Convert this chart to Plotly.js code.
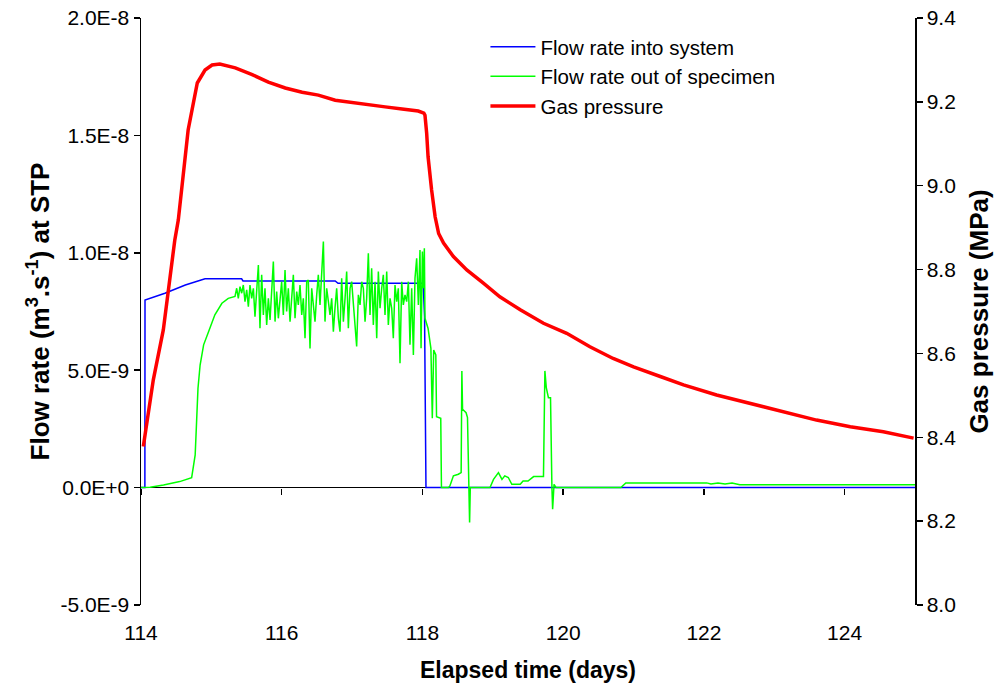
<!DOCTYPE html>
<html>
<head>
<meta charset="utf-8">
<script src="https://cdn.plot.ly/plotly-3.0.1.min.js"></script>
<style>html,body{margin:0;padding:0;background:#fff;}#chart{width:998px;height:688px;}</style>
</head>
<body>
<div id="chart"></div>
<script>
// Flow rate into system (m3/s at STP)
const inT = [114.0, 114.055, 114.057, 114.34, 114.63, 114.77, 114.91, 115.43, 115.45, 116.76, 116.80, 118.01, 118.03, 118.05, 125.0];
const inF = [0, 0, 7.99e-9, 8.28e-9, 8.63e-9, 8.77e-9, 8.89e-9, 8.89e-9, 8.80e-9, 8.80e-9, 8.70e-9, 8.70e-9, 7.28e-9, 0, 0];

// Flow rate out of specimen (m3/s at STP)
const outT = [114.0, 114.03, 114.13, 114.32, 114.55, 114.72, 114.77, 114.79, 114.81, 114.84, 114.89, 114.96, 115.05, 115.15, 115.24,
  115.336, 115.360, 115.383, 115.407, 115.431, 115.454, 115.478, 115.502, 115.526, 115.549, 115.573, 115.597, 115.620, 115.644, 115.668,
  115.691, 115.715, 115.739, 115.762, 115.786, 115.810, 115.834, 115.857, 115.881, 115.905, 115.928, 115.952, 115.976, 115.999, 116.023,
  116.047, 116.070, 116.094, 116.118, 116.141, 116.165, 116.189, 116.213, 116.236, 116.260, 116.284, 116.307, 116.331, 116.355, 116.378,
  116.402, 116.426, 116.449, 116.473, 116.497, 116.520, 116.544, 116.568, 116.592, 116.615, 116.639, 116.663, 116.686, 116.710, 116.734,
  116.757, 116.781, 116.805, 116.828, 116.852, 116.876, 116.900, 116.923, 116.947, 116.971, 116.994, 117.018, 117.042, 117.065, 117.089,
  117.113, 117.136, 117.160, 117.184, 117.207, 117.231, 117.255, 117.278, 117.302, 117.326, 117.350, 117.373, 117.397, 117.421, 117.444,
  117.468, 117.492, 117.515, 117.539, 117.563, 117.586, 117.610, 117.634, 117.657, 117.681, 117.705, 117.728, 117.752, 117.776, 117.800,
  117.823, 117.847, 117.871, 117.894, 117.918, 117.942, 117.965, 117.980, 117.999, 118.013, 118.027, 118.036,
  118.08, 118.12, 118.14, 118.16, 118.19, 118.20, 118.26, 118.27, 118.37, 118.39, 118.44, 118.51, 118.55, 118.56, 118.57, 118.62, 118.64,
  118.67, 118.68, 118.96, 119.01, 119.08, 119.13, 119.17, 119.22, 119.27, 119.39, 119.43, 119.50, 119.58, 119.72, 119.74, 119.76, 119.79,
  119.82, 119.84, 119.85, 119.87, 119.90, 120.82, 120.89, 122.04, 122.10, 122.20, 122.30, 122.40, 122.51, 125.0];
const outF = [0, 0, 0.013e-9, 0.115e-9, 0.256e-9, 0.426e-9, 1.39e-9, 2.81e-9, 4.23e-9, 5.22e-9, 6.08e-9, 6.64e-9, 7.36e-9, 7.85e-9, 8.06e-9,
  8.14e-9, 8.49e-9, 8.06e-9, 8.56e-9, 8.28e-9, 8.63e-9, 7.92e-9, 8.42e-9, 7.71e-9, 8.63e-9, 8.06e-9, 8.49e-9, 7.28e-9, 8.21e-9, 9.48e-9,
  6.79e-9, 9.06e-9, 7.35e-9, 8.49e-9, 6.93e-9, 8.06e-9, 7.14e-9, 8.35e-9, 9.63e-9, 7.07e-9, 8.35e-9, 7.21e-9, 7.92e-9, 8.77e-9, 7.35e-9,
  9.27e-9, 7.50e-9, 8.49e-9, 7.07e-9, 7.92e-9, 9.06e-9, 7.21e-9, 8.35e-9, 7.78e-9, 8.63e-9, 7.35e-9, 8.06e-9, 6.36e-9, 8.77e-9, 8.84e-9,
  5.93e-9, 8.49e-9, 7.64e-9, 7.07e-9, 8.21e-9, 9.06e-9, 7.78e-9, 9.34e-9, 10.48e-9, 7.07e-9, 8.49e-9, 7.92e-9, 7.35e-9, 8.06e-9, 6.64e-9,
  7.64e-9, 8.49e-9, 7.21e-9, 6.64e-9, 8.92e-9, 7.07e-9, 8.06e-9, 9.20e-9, 6.79e-9, 8.49e-9, 8.77e-9, 7.78e-9, 7.07e-9, 6.01e-9, 8.21e-9,
  7.78e-9, 8.77e-9, 8.49e-9, 7.07e-9, 8.06e-9, 9.98e-9, 7.35e-9, 9.34e-9, 6.93e-9, 8.77e-9, 6.36e-9, 9.20e-9, 7.64e-9, 8.49e-9, 9.06e-9,
  7.35e-9, 9.20e-9, 6.93e-9, 8.06e-9, 7.64e-9, 6.36e-9, 8.63e-9, 7.92e-9, 8.49e-9, 5.30e-9, 8.77e-9, 7.78e-9, 8.21e-9, 7.92e-9, 8.77e-9,
  6.08e-9, 8.49e-9, 5.65e-9, 8.92e-9, 9.77e-9, 7.78e-9, 10.12e-9, 5.93e-9, 10.05e-9, 8.49e-9, 10.19e-9, 7.21e-9,
  6.78e-9, 5.93e-9, 2.95e-9, 5.86e-9, 5.65e-9, 3.02e-9, 2.95e-9, 0, 0, 0.07e-9, 0.50e-9, 0.57e-9, 0.64e-9, 4.97e-9, 3.34e-9, 3.19e-9, 2.98e-9,
  -1.49e-9, 0, 0, 0.35e-9, 0.64e-9, 0.35e-9, 0.50e-9, 0.43e-9, 0.14e-9, 0.14e-9, 0.28e-9, 0.28e-9, 0.47e-9, 0.47e-9, 4.97e-9, 4.26e-9, 3.83e-9,
  3.83e-9, 0, -0.92e-9, 0.14e-9, 0, 0, 0.20e-9, 0.20e-9, 0.15e-9, 0.20e-9, 0.15e-9, 0.20e-9, 0.12e-9, 0.12e-9];

// Gas pressure (MPa)
const pT = [114.033, 114.175, 114.317, 114.41, 114.48, 114.53, 114.67, 114.80, 114.91, 115.01, 115.12, 115.34, 115.58, 115.81, 116.05,
  116.29, 116.52, 116.76, 117.0, 117.23, 117.47, 117.71, 117.94, 118.02, 118.036, 118.06, 118.08, 118.13, 118.18, 118.23, 118.30, 118.44,
  118.63, 118.87, 119.10, 119.39, 119.72, 120.05, 120.38, 120.71, 121.0, 121.38, 121.71, 122.18, 122.66, 123.13, 123.60, 124.08, 124.55, 124.98];
const pP = [8.378, 8.537, 8.656, 8.775, 8.870, 8.918, 9.133, 9.245, 9.276, 9.288, 9.290, 9.281, 9.265, 9.247, 9.233,
  9.223, 9.216, 9.204, 9.198, 9.192, 9.188, 9.183, 9.178, 9.173, 9.168, 9.125, 9.069, 8.990, 8.926, 8.886, 8.863, 8.831,
  8.799, 8.767, 8.735, 8.704, 8.672, 8.648, 8.616, 8.588, 8.568, 8.545, 8.525, 8.501, 8.481, 8.461, 8.441, 8.425, 8.413, 8.398];

const xTicks = [114, 116, 118, 120, 122, 124];
const yTicks = [-5e-9, 0, 5e-9, 1e-8, 1.5e-8, 2e-8];
const yTickText = ['-5.0E-9', '0.0E+0', '5.0E-9', '1.0E-8', '1.5E-8', '2.0E-8'];
const pTicks = [8.0, 8.2, 8.4, 8.6, 8.8, 9.0, 9.2, 9.4];

const FONT = 'Liberation Sans, Arial, sans-serif';

const traces = [
  {x: inT, y: inF, type: 'scatter', mode: 'lines', name: 'Flow rate into system',
   line: {color: '#0000FF', width: 1.5}, xaxis: 'x', yaxis: 'y'},
  {x: outT, y: outF, type: 'scatter', mode: 'lines', name: 'Flow rate out of specimen',
   line: {color: '#00FF00', width: 1.5}, xaxis: 'x', yaxis: 'y'},
  {x: pT, y: pP, type: 'scatter', mode: 'lines', name: 'Gas pressure',
   line: {color: '#FF0000', width: 3.5}, xaxis: 'x', yaxis: 'y2'},
  // carrier so that the tick marks on the zero-flow crossing are drawn
  {x: [xTicks[0]], y: [yTicks[1]], type: 'scatter', mode: 'markers', marker: {opacity: 0, size: 1},
   showlegend: false, hoverinfo: 'skip', xaxis: 'x2', yaxis: 'y'}
];

const layout = {
  width: 998, height: 688,
  margin: {l: 141, r: 83, t: 18, b: 83, pad: 0},
  paper_bgcolor: '#fff', plot_bgcolor: '#fff',
  font: {family: FONT, color: '#000', size: 21},
  showlegend: true,
  legend: {x: 0.445, y: 0.985, xanchor: 'left', yanchor: 'top', bgcolor: 'rgba(0,0,0,0)',
           font: {family: FONT, size: 20.5, color: '#000'}, tracegroupgap: 0, itemwidth: 45},
  xaxis: {range: [114, 125], tickvals: xTicks, ticktext: xTicks.map(String), showline: false, showgrid: false,
          zeroline: false, ticks: 'outside', ticklen: 9, tickcolor: 'rgba(0,0,0,0)',
          tickfont: {family: FONT, size: 21, color: '#000'},
          title: {text: '<b>Elapsed time (days)</b>', font: {family: FONT, size: 23, color: '#000'}, standoff: 18}},
  xaxis2: {range: [114, 125], overlaying: 'x', anchor: 'free', position: 0.2, side: 'bottom',
           tickvals: xTicks, showticklabels: false, showline: false,
           ticks: 'outside', ticklen: 6, tickwidth: 1.5, tickcolor: '#000', showgrid: false, zeroline: false},
  yaxis: {range: [-5e-9, 2e-8], tickvals: yTicks, ticktext: yTickText, showline: true, linecolor: '#000', linewidth: 1.5,
          ticks: 'outside', ticklen: 6, tickwidth: 1.5, tickcolor: '#000', showgrid: false,
          zeroline: true, zerolinecolor: '#000', zerolinewidth: 1.5,
          tickfont: {family: FONT, size: 21, color: '#000'},
          title: {text: '<b>Flow rate (m<sup>3</sup>.s<sup>-1</sup>) at STP</b>', font: {family: FONT, size: 26, color: '#000'}, standoff: 3}},
  yaxis2: {range: [8.0, 9.4], overlaying: 'y', side: 'right', tickvals: pTicks, ticktext: pTicks.map(v => v.toFixed(1)),
           showline: true, linecolor: '#000', linewidth: 1.5, ticks: 'outside', ticklen: 6, tickwidth: 1.5, tickcolor: '#000',
           showgrid: false, zeroline: false, tickfont: {family: FONT, size: 21, color: '#000'},
           title: {text: '<b>Gas pressure (MPa)</b>', font: {family: FONT, size: 26, color: '#000'}, standoff: 14}}
};

Plotly.newPlot('chart', traces, layout, {displayModeBar: false, staticPlot: true});
</script>
</body>
</html>
